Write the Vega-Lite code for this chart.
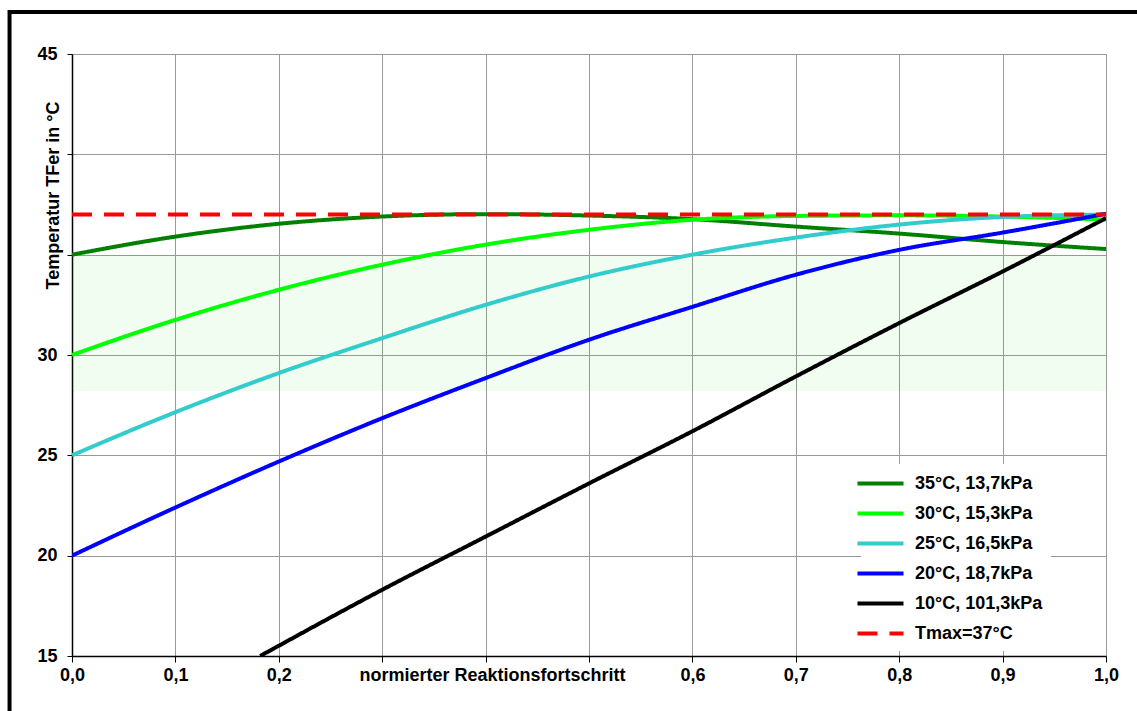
{
  "$schema": "https://vega.github.io/schema/vega-lite/v6.json",
  "width": 1034,
  "height": 602,
  "autosize": {"type": "none"},
  "padding": {"left": 72, "top": 54, "right": 31, "bottom": 55},
  "background": "white",
  "config": {
    "view": {"stroke": null},
    "font": "Liberation Sans",
    "axis": {
      "labelFont": "Liberation Sans",
      "labelFontSize": 18,
      "labelFontWeight": "bold",
      "labelColor": "black",
      "titleFont": "Liberation Sans",
      "titleFontSize": 18,
      "titleFontWeight": "bold",
      "titleColor": "black",
      "domainColor": "black",
      "domainWidth": 1.5,
      "tickColor": "black",
      "tickWidth": 1,
      "gridColor": "#999999",
      "gridWidth": 1
    },
    "legend": {
      "labelFont": "Liberation Sans",
      "labelFontSize": 18,
      "labelFontWeight": "bold",
      "labelColor": "black"
    }
  },
  "datasets": {
    "curves": [
      {"series": "35°C, 13,7kPa", "x": 0.0, "y": 35.0},
      {"series": "35°C, 13,7kPa", "x": 0.1, "y": 35.9},
      {"series": "35°C, 13,7kPa", "x": 0.2, "y": 36.54},
      {"series": "35°C, 13,7kPa", "x": 0.3, "y": 36.9},
      {"series": "35°C, 13,7kPa", "x": 0.4, "y": 37.02},
      {"series": "35°C, 13,7kPa", "x": 0.5, "y": 36.95},
      {"series": "35°C, 13,7kPa", "x": 0.6, "y": 36.77},
      {"series": "35°C, 13,7kPa", "x": 0.7, "y": 36.4},
      {"series": "35°C, 13,7kPa", "x": 0.8, "y": 36.05},
      {"series": "35°C, 13,7kPa", "x": 0.9, "y": 35.63},
      {"series": "35°C, 13,7kPa", "x": 1.0, "y": 35.28},
      {"series": "30°C, 15,3kPa", "x": 0.0, "y": 30.0},
      {"series": "30°C, 15,3kPa", "x": 0.1, "y": 31.75},
      {"series": "30°C, 15,3kPa", "x": 0.2, "y": 33.25},
      {"series": "30°C, 15,3kPa", "x": 0.3, "y": 34.5},
      {"series": "30°C, 15,3kPa", "x": 0.4, "y": 35.5},
      {"series": "30°C, 15,3kPa", "x": 0.5, "y": 36.24},
      {"series": "30°C, 15,3kPa", "x": 0.6, "y": 36.74},
      {"series": "30°C, 15,3kPa", "x": 0.7, "y": 36.93},
      {"series": "30°C, 15,3kPa", "x": 0.8, "y": 36.96},
      {"series": "30°C, 15,3kPa", "x": 0.9, "y": 36.9},
      {"series": "30°C, 15,3kPa", "x": 1.0, "y": 36.75},
      {"series": "25°C, 16,5kPa", "x": 0.0, "y": 25.0},
      {"series": "25°C, 16,5kPa", "x": 0.1, "y": 27.15},
      {"series": "25°C, 16,5kPa", "x": 0.2, "y": 29.1},
      {"series": "25°C, 16,5kPa", "x": 0.3, "y": 30.84},
      {"series": "25°C, 16,5kPa", "x": 0.4, "y": 32.5},
      {"series": "25°C, 16,5kPa", "x": 0.5, "y": 33.91},
      {"series": "25°C, 16,5kPa", "x": 0.6, "y": 35.0},
      {"series": "25°C, 16,5kPa", "x": 0.7, "y": 35.85},
      {"series": "25°C, 16,5kPa", "x": 0.8, "y": 36.5},
      {"series": "25°C, 16,5kPa", "x": 0.9, "y": 36.88},
      {"series": "25°C, 16,5kPa", "x": 1.0, "y": 37.0},
      {"series": "20°C, 18,7kPa", "x": 0.0, "y": 20.0},
      {"series": "20°C, 18,7kPa", "x": 0.1, "y": 22.4},
      {"series": "20°C, 18,7kPa", "x": 0.2, "y": 24.69},
      {"series": "20°C, 18,7kPa", "x": 0.3, "y": 26.85},
      {"series": "20°C, 18,7kPa", "x": 0.4, "y": 28.85},
      {"series": "20°C, 18,7kPa", "x": 0.5, "y": 30.76},
      {"series": "20°C, 18,7kPa", "x": 0.6, "y": 32.4},
      {"series": "20°C, 18,7kPa", "x": 0.7, "y": 34.0},
      {"series": "20°C, 18,7kPa", "x": 0.8, "y": 35.24},
      {"series": "20°C, 18,7kPa", "x": 0.9, "y": 36.1},
      {"series": "20°C, 18,7kPa", "x": 1.0, "y": 37.04},
      {"series": "10°C, 101,3kPa", "x": 0.182, "y": 15.0},
      {"series": "10°C, 101,3kPa", "x": 0.3, "y": 18.3},
      {"series": "10°C, 101,3kPa", "x": 0.4, "y": 20.95},
      {"series": "10°C, 101,3kPa", "x": 0.5, "y": 23.6},
      {"series": "10°C, 101,3kPa", "x": 0.6, "y": 26.2},
      {"series": "10°C, 101,3kPa", "x": 0.7, "y": 28.93},
      {"series": "10°C, 101,3kPa", "x": 0.8, "y": 31.59},
      {"series": "10°C, 101,3kPa", "x": 0.9, "y": 34.16},
      {"series": "10°C, 101,3kPa", "x": 1.0, "y": 36.82},
      {"series": "Tmax=37°C", "x": 0.0, "y": 37.0},
      {"series": "Tmax=37°C", "x": 1.0, "y": 37.0}
    ],
    "band": [
      {"x1": 0.0, "x2": 1.0, "y1": 28.2, "y2": 35.0}
    ],
    "frame": [
      {"label": "frame"}
    ]
  },
  "layer": [
    {
      "data": {"name": "band"},
      "mark": {"type": "rect", "fill": "#00E000", "opacity": 0.06},
      "encoding": {
        "x": {"field": "x1", "type": "quantitative", "scale": {"domain": [0, 1], "nice": false, "zero": false},
          "axis": {
            "values": [0, 0.1, 0.2, 0.3, 0.4, 0.5, 0.6, 0.7, 0.8, 0.9, 1.0],
            "format": ".1f",
            "labelExpr": "(datum.value > 0.25 && datum.value < 0.55) ? '' : replace(datum.label, '.', ',')",
            "grid": true,
            "tickSize": 6,
            "labelPadding": 4,
            "labelFlush": false,
            "labelOverlap": false,
            "title": "normierter Reaktionsfortschritt",
            "titleX": 420,
            "titleY": 10,
            "titleBaseline": "top",
            "titleAlign": "center"
          }
        },
        "x2": {"field": "x2"},
        "y": {"field": "y1", "type": "quantitative", "scale": {"domain": [15, 45], "nice": false, "zero": false},
          "axis": {
            "values": [15, 20, 25, 30, 35, 40, 45],
            "labelExpr": "(datum.value == 35 || datum.value == 40) ? '' : datum.label",
            "grid": true,
            "tickSize": 5,
            "labelPadding": 10,
            "labelFlush": false,
            "labelOverlap": false,
            "title": "Temperatur TFer in °C",
            "titleX": -10,
            "titleY": 141,
            "titleAlign": "center",
            "titleBaseline": "bottom",
            "titleAngle": 270
          }
        },
        "y2": {"field": "y2"}
      }
    },
    {
      "data": {"name": "curves"},
      "transform": [{"filter": "datum.series != 'Tmax=37°C'"}],
      "mark": {"type": "line", "strokeWidth": 4, "interpolate": "monotone", "clip": true},
      "encoding": {
        "x": {"field": "x", "type": "quantitative"},
        "y": {"field": "y", "type": "quantitative"},
        "color": {
          "field": "series", "type": "nominal",
          "scale": {
            "domain": ["35°C, 13,7kPa", "30°C, 15,3kPa", "25°C, 16,5kPa", "20°C, 18,7kPa", "10°C, 101,3kPa", "Tmax=37°C"],
            "range": ["#008000", "#00FF00", "#33CCCC", "#0000FF", "#000000", "#FF0000"]
          },
          "legend": {
            "title": null,
            "orient": "none",
            "legendX": 789,
            "legendY": 410,
            "padding": 8,
            "fillColor": "white",
            "symbolType": "M-2.5,0H2.5",
            "symbolSize": 339,
            "symbolStrokeWidth": 4,
            "labelOffset": 23,
            "rowPadding": 9
          }
        },
        "strokeDash": {
          "field": "series", "type": "nominal",
          "scale": {
            "domain": ["35°C, 13,7kPa", "30°C, 15,3kPa", "25°C, 16,5kPa", "20°C, 18,7kPa", "10°C, 101,3kPa", "Tmax=37°C"],
            "range": [[1, 0], [1, 0], [1, 0], [1, 0], [1, 0], [20, 12]]
          },
          "legend": {
            "title": null,
            "orient": "none",
            "legendX": 789,
            "legendY": 410,
            "padding": 8,
            "fillColor": "white",
            "symbolType": "M-2.5,0H2.5",
            "symbolSize": 339,
            "symbolStrokeWidth": 4,
            "labelOffset": 23,
            "rowPadding": 9
          }
        },
        "order": {"field": "x", "type": "quantitative"}
      }
    },
    {
      "data": {"name": "curves"},
      "transform": [{"filter": "datum.series == 'Tmax=37°C'"}],
      "mark": {"type": "line", "strokeWidth": 4},
      "encoding": {
        "x": {"field": "x", "type": "quantitative"},
        "y": {"field": "y", "type": "quantitative"},
        "color": {"field": "series", "type": "nominal"},
        "strokeDash": {"field": "series", "type": "nominal"}
      }
    },
    {
      "data": {"name": "frame"},
      "mark": {"type": "rect", "fill": "transparent", "stroke": "black", "strokeWidth": 4, "clip": false},
      "encoding": {
        "x": {"datum": -0.0604},
        "x2": {"datum": 1.06},
        "y": {"datum": 47.09},
        "y2": {"datum": 12}
      }
    }
  ]
}
